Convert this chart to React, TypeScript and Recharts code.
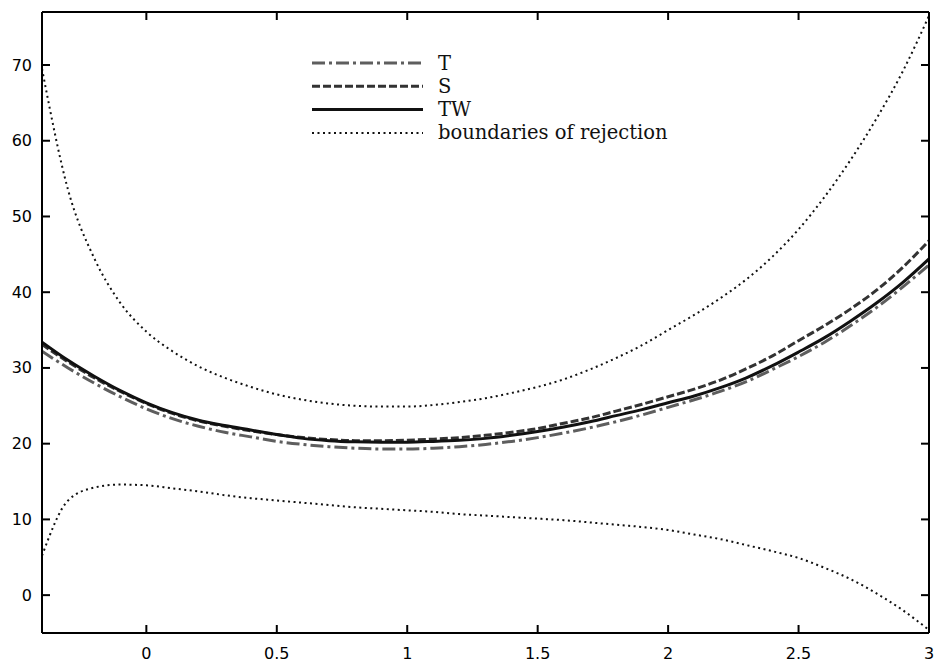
import React from 'react';
import { LineChart, Line, XAxis, YAxis, Legend } from 'recharts';

// sample positions along the x axis
const xs = [
  -0.4, -0.3, -0.2, -0.1, 0, 0.1, 0.2, 0.3, 0.4, 0.5, 0.6, 0.7, 0.8, 0.9, 1.0, 1.1, 1.2,
  1.3, 1.4, 1.5, 1.6, 1.7, 1.8, 1.9, 2.0, 2.1, 2.2, 2.3, 2.4, 2.5, 2.6, 2.7, 2.8, 2.9, 3.0,
];

const tValues = [
  32.2, 30.0, 28.0, 26.2, 24.6, 23.3, 22.3, 21.5, 20.9, 20.3, 19.9, 19.6, 19.4, 19.3, 19.3, 19.4, 19.6,
  19.9, 20.3, 20.8, 21.4, 22.1, 22.9, 23.8, 24.8, 25.8, 26.9, 28.2, 29.8, 31.5, 33.4, 35.6, 38.0, 40.7, 43.6,
];

const sValues = [
  33.1, 30.8, 28.7, 26.9, 25.3, 24.0, 23.0, 22.3, 21.7, 21.2, 20.8, 20.55, 20.4, 20.4, 20.45, 20.6, 20.8,
  21.1, 21.5, 22.0, 22.7, 23.4, 24.3, 25.2, 26.2, 27.2, 28.4, 29.9, 31.6, 33.6, 35.6, 37.8, 40.3, 43.3, 46.8,
];

const twValues = [
  33.4, 31.0, 28.9, 27.0, 25.4, 24.1, 23.1, 22.4, 21.8, 21.2, 20.7, 20.4, 20.25, 20.2, 20.2, 20.3, 20.45,
  20.7, 21.1, 21.6, 22.2, 22.9, 23.7, 24.5, 25.4, 26.3, 27.4, 28.7, 30.3, 32.1, 34.0, 36.2, 38.6, 41.3, 44.4,
];

const upperBound = [
  69.5, 53.5, 44.5, 38.6, 34.8, 32.2, 30.2, 28.7, 27.5, 26.5, 25.8, 25.3, 25.0, 24.9, 24.9, 25.1, 25.5,
  26.0, 26.7, 27.5, 28.5, 29.8, 31.3, 33.0, 35.0, 37.0, 39.2, 41.7, 44.7, 48.3, 52.6, 57.5, 63.0, 69.2, 76.5,
];

const lowerBound = [
  5.2, 12.5, 14.2, 14.6, 14.5, 14.1, 13.7, 13.2, 12.8, 12.5, 12.2, 11.9, 11.6, 11.4, 11.2, 11.0, 10.7,
  10.5, 10.3, 10.1, 9.9, 9.6, 9.3, 9.0, 8.6, 8.0, 7.4, 6.6, 5.8, 4.9, 3.6, 2.1, 0.2, -2.0, -4.6,
];

const xTicks = [0, 0.5, 1, 1.5, 2, 2.5, 3];
const yTicks = [0, 10, 20, 30, 40, 50, 60, 70];

const legendItems = [
  { label: 'T', color: '#5e5e5e', dash: '13 4 3 4', width: 3 },
  { label: 'S', color: '#333333', dash: '8 3', width: 3 },
  { label: 'TW', color: '#111111', dash: undefined, width: 3 },
  { label: 'boundaries of rejection', color: '#111111', dash: '2 3.5', width: 2 },
];

const rows = xs.map((x, i) => ({
  x,
  t: tValues[i],
  s: sValues[i],
  tw: twValues[i],
  up: upperBound[i],
  low: lowerBound[i],
}));

const tickFont = { fontFamily: '"DejaVu Sans", sans-serif', fontSize: 16, fill: '#000' };

const BottomTick = (props: any) => {
  const { x, y, payload } = props;
  return (
    <g>
      <line x1={x} y1={y} x2={x} y2={y - 8} stroke="#000" strokeWidth={2} />
      <text x={x} y={y + 20} textAnchor="middle" dominantBaseline="central" {...tickFont}>
        {String(payload.value)}
      </text>
    </g>
  );
};

const TopTick = (props: any) => {
  const { x, y } = props;
  return <line x1={x} y1={y} x2={x} y2={y + 8} stroke="#000" strokeWidth={2} />;
};

const LeftTick = (props: any) => {
  const { x, y, payload } = props;
  return (
    <g>
      <line x1={x} y1={y} x2={x + 8} y2={y} stroke="#000" strokeWidth={2} />
      <text x={x - 10} y={y} textAnchor="end" dominantBaseline="central" {...tickFont}>
        {String(payload.value)}
      </text>
    </g>
  );
};

const RightTick = (props: any) => {
  const { x, y } = props;
  return <line x1={x} y1={y} x2={x - 8} y2={y} stroke="#000" strokeWidth={2} />;
};

const LegendBox = () => (
  <svg width={380} height={100}>
    {legendItems.map((item, i) => {
      const cy = 18 + i * 23.3;
      return (
        <g key={item.label}>
          <line
            x1={12}
            y1={cy}
            x2={123}
            y2={cy}
            stroke={item.color}
            strokeWidth={item.width}
            strokeDasharray={item.dash}
          />
          <text
            x={138}
            y={cy}
            dominantBaseline="central"
            fontFamily='"DejaVu Serif", serif'
            fontSize={19.5}
            fill="#111"
          >
            {item.label}
          </text>
        </g>
      );
    })}
  </svg>
);

export default function App() {
  return (
    <div style={{ position: 'absolute', left: 0, top: 0, background: '#fff' }}>
      <LineChart width={935} height={662} data={rows} margin={{ top: 0, right: 0, bottom: 0, left: 0 }}>
        <XAxis
          dataKey="x"
          type="number"
          domain={[-0.4, 3]}
          ticks={xTicks}
          allowDataOverflow
          height={29}
          tickSize={0}
          tickMargin={0}
          tick={<BottomTick />}
          axisLine={{ stroke: '#000', strokeWidth: 2 }}
          interval={0}
        />
        <XAxis
          xAxisId="top"
          dataKey="x"
          type="number"
          orientation="top"
          domain={[-0.4, 3]}
          ticks={xTicks}
          allowDataOverflow
          height={12}
          tickSize={0}
          tickMargin={0}
          tick={<TopTick />}
          axisLine={{ stroke: '#000', strokeWidth: 2 }}
          interval={0}
        />
        <YAxis
          type="number"
          domain={[-5, 77]}
          ticks={yTicks}
          allowDataOverflow
          width={42}
          tickSize={0}
          tickMargin={0}
          tick={<LeftTick />}
          axisLine={{ stroke: '#000', strokeWidth: 2 }}
          interval={0}
        />
        <YAxis
          yAxisId="right"
          orientation="right"
          type="number"
          domain={[-5, 77]}
          ticks={yTicks}
          allowDataOverflow
          width={6}
          tickSize={0}
          tickMargin={0}
          tick={<RightTick />}
          axisLine={{ stroke: '#000', strokeWidth: 2 }}
          interval={0}
        />
        <Legend
          layout="vertical"
          align="center"
          verticalAlign="middle"
          content={<LegendBox />}
          wrapperStyle={{ left: 300, top: 45, width: 380, height: 100 }}
        />
        <Line type="monotone" dataKey="up" stroke="#111" strokeWidth={2} strokeDasharray="2 3.5" dot={false} isAnimationActive={false} />
        <Line type="monotone" dataKey="low" stroke="#111" strokeWidth={2} strokeDasharray="2 3.5" dot={false} isAnimationActive={false} />
        <Line type="monotone" dataKey="t" stroke="#5e5e5e" strokeWidth={3} strokeDasharray="13 4 3 4" dot={false} isAnimationActive={false} />
        <Line type="monotone" dataKey="s" stroke="#333333" strokeWidth={3} strokeDasharray="8 3" dot={false} isAnimationActive={false} />
        <Line type="monotone" dataKey="tw" stroke="#111111" strokeWidth={3} dot={false} isAnimationActive={false} />
      </LineChart>
    </div>
  );
}
